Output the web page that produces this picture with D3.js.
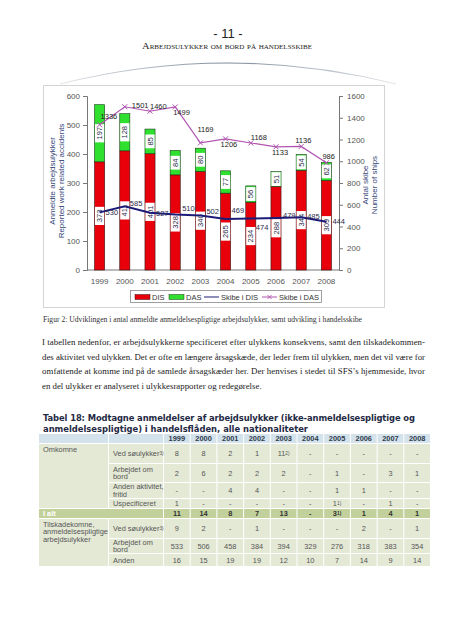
<!DOCTYPE html>
<html><head><meta charset="utf-8">
<script src="https://cdn.jsdelivr.net/npm/d3@7"></script>
<style>body{margin:0;background:#fff}svg{display:block}</style>
</head><body><svg id="c" width="452" height="640"></svg>
<script>
// ---------- DATA ----------
const years = ["1999","2000","2001","2002","2003","2004","2005","2006","2007","2008"];
const disAccidents = [373,411,401,328,340,265,234,288,344,309];
const dasAccidents = [197,128,85,84,80,77,56,51,54,62];
const shipsDIS = [530,585,527,510,502,469,474,479,485,444];
const shipsDAS = [1336,1501,1460,1499,1169,1206,1168,1133,1136,986];
const leftTicks = [0,100,200,300,400,500,600];
const rightTicks = [0,200,400,600,800,1000,1200,1400,1600];
const legendLabels = ["DIS","DAS","Skibe i DIS","Skibe i DAS"];
// label nudges (dx,dy from point) for line labels
const disLabelDx = [6,5,6,7,6,6,5,7,6,6];
const disLabelDy = [0,-3,1,-6,-4,-9,9,-3,-1,0];
const dasLabelDx = [1,7,0,-2,-3,-5,0,-4,-6,-4];
const dasLabelDy = [-8,-1,-5,5,-13,6,-6,6,-6,-6];

// table
const tableYears = years;
const omkSoe   = ["8","8","2","1","11^2)","-","-","-","-","-"];
const omkBord  = ["2","6","2","2","2","-","1","-","3","1"];
const omkAnden = ["-","-","4","4","-","-","1","1","-","-"];
const omkUspec = ["1","-","-","-","-","-","1^1)","-","1","-"];
const iAlt     = ["11","14","8","7","13","-","3^1)","1","4","1"];
const tilSoe   = ["9","2","-","1","-","-","-","2","-","1"];
const tilBord  = ["533","506","458","384","394","329","276","318","383","354"];
const tilAnden = ["16","15","19","19","12","10","7","14","9","14"];

const paragraph = [
 "I tabellen nedenfor, er arbejdsulykkerne specificeret efter ulykkens konsekvens, samt den tilskadekommen-",
 "des aktivitet ved ulykken. Det er ofte en længere årsagskæde, der leder frem til ulykken, men det vil være for",
 "omfattende at komme ind på de samlede årsagskæder her. Der henvises i stedet til SFS’s hjemmeside, hvor",
 "en del ulykker er analyseret i ulykkesrapporter og redegørelse."
];

// ---------- DRAW ----------
const svg = d3.select("#c");
const SANS = "'Liberation Sans', Arial, sans-serif";
const SERIF = "'Liberation Serif', 'Times New Roman', serif";

// header
svg.append("text").attr("x",228).attr("y",38).attr("text-anchor","middle")
  .attr("font-family",SANS).attr("font-size",13).attr("fill","#222").text("- 11 -");
svg.append("text").attr("x",227).attr("y",49).attr("text-anchor","middle")
  .attr("font-family",SERIF).attr("font-size",9).attr("fill","#222")
  .style("font-variant","small-caps").attr("textLength",170).attr("lengthAdjust","spacingAndGlyphs")
  .text("Arbejdsulykker om bord på handelsskibe");
const defs = svg.append("defs");
const g1 = defs.append("linearGradient").attr("id","arcg").attr("x1","0").attr("x2","1");
g1.append("stop").attr("offset","0").attr("stop-color","#7f8a9a").attr("stop-opacity",0.2);
g1.append("stop").attr("offset","0.5").attr("stop-color","#7f8a9a").attr("stop-opacity",1);
g1.append("stop").attr("offset","1").attr("stop-color","#7f8a9a").attr("stop-opacity",0.2);
svg.append("path").attr("d","M60,84 Q228,42 396,84").attr("fill","none")
  .attr("stroke","url(#arcg)").attr("stroke-width",1.2);

// chart frame
svg.append("rect").attr("x",43.5).attr("y",85.5).attr("width",341).attr("height",222)
  .attr("fill","#fff").attr("stroke","#d4d4d4");

const x = d3.scaleBand().domain(years).range([87,339]).paddingInner(0.6).paddingOuter(0.3);
const yL = d3.scaleLinear().domain([0,600]).range([270,96]);
const yR = d3.scaleLinear().domain([0,1600]).range([270,96]);
const cx = d => x(d) + x.bandwidth()/2;

// axes
const axL = svg.append("g").attr("transform","translate(87,0)")
  .call(d3.axisLeft(yL).tickValues(leftTicks).tickFormat(d3.format("d")).tickSize(4).tickPadding(3));
const axR = svg.append("g").attr("transform","translate(339,0)")
  .call(d3.axisRight(yR).tickValues(rightTicks).tickFormat(d3.format("d")).tickSize(4).tickPadding(4));
const axB = svg.append("g").attr("transform","translate(0,270)")
  .call(d3.axisBottom(x).tickSize(0).tickPadding(8));
[axL,axR,axB].forEach(a=>{
  a.selectAll("path,line").attr("stroke","#777");
  a.selectAll("text").attr("font-family",SANS).attr("font-size",8).attr("fill","#555");
});
axB.select("path").attr("d","M87,0H339");

// axis titles
const tL = svg.append("text").attr("transform","translate(0,181) rotate(-90)")
  .attr("text-anchor","middle").attr("font-family",SANS).attr("font-size",8).attr("fill","#34467a");
tL.append("tspan").attr("x",0).attr("y",55).text("Anmeldte arbejdsulykker");
tL.append("tspan").attr("x",0).attr("y",64).text("Reported work related accidents");
const tR = svg.append("text").attr("transform","translate(0,185) rotate(-90)")
  .attr("text-anchor","middle").attr("font-family",SANS).attr("font-size",8).attr("fill","#34467a");
tR.append("tspan").attr("x",0).attr("y",368).text("Antal skibe");
tR.append("tspan").attr("x",0).attr("y",377).text("Number of ships");

// bars
const barData = years.map((yr,i)=>({yr, dis:disAccidents[i], das:dasAccidents[i]}));
const bars = svg.append("g");
bars.selectAll(".dis").data(barData).join("rect")
  .attr("x",d=>x(d.yr)).attr("width",x.bandwidth())
  .attr("y",d=>yL(d.dis)).attr("height",d=>yL(0)-yL(d.dis))
  .attr("fill","#e8000b").attr("stroke","#3a1010").attr("stroke-width",0.6);
bars.selectAll(".das").data(barData).join("rect")
  .attr("x",d=>x(d.yr)).attr("width",x.bandwidth())
  .attr("y",d=>yL(d.dis+d.das)).attr("height",d=>yL(d.dis)-yL(d.dis+d.das))
  .attr("fill","#2fe02f").attr("stroke","#1a3a1a").attr("stroke-width",0.6);

function barLabel(xc, yc, txt){
  const g = svg.append("g").attr("transform",`translate(${xc},${yc}) rotate(-90)`);
  const w = txt.length*4.4+5;
  g.append("rect").attr("x",-w/2).attr("y",-4.6).attr("width",w).attr("height",9.2).attr("fill","#fff");
  g.append("text").attr("text-anchor","middle").attr("dy","0.33em")
   .attr("font-family",SANS).attr("font-size",7.6).attr("fill","#2a2a4a").text(txt);
}
barData.forEach(d=>{
  barLabel(cx(d.yr), (yL(0)+yL(d.dis))/2, String(d.dis));
  barLabel(cx(d.yr), (yL(d.dis)+yL(d.dis+d.das))/2, String(d.das));
});

// lines
const lineDIS = d3.line().x((d,i)=>cx(years[i])).y(d=>yR(d));
svg.append("path").attr("d",lineDIS(shipsDIS)).attr("fill","none")
  .attr("stroke","#1c1c78").attr("stroke-width",2);
svg.append("path").attr("d",lineDIS(shipsDAS)).attr("fill","none")
  .attr("stroke","#b054b0").attr("stroke-width",1.2);
shipsDAS.forEach((v,i)=>{
  const px=cx(years[i]), py=yR(v);
  svg.append("path").attr("d",`M${px-2.5},${py-2.5}L${px+2.5},${py+2.5}M${px-2.5},${py+2.5}L${px+2.5},${py-2.5}`)
    .attr("stroke","#b054b0").attr("stroke-width",1);
});
shipsDIS.forEach((v,i)=>{
  svg.append("text").attr("x",cx(years[i])+disLabelDx[i]).attr("y",yR(v)+disLabelDy[i]).attr("dy","0.35em")
    .attr("font-family",SANS).attr("font-size",7.5).attr("fill","#2a2a4a").text(v);
});
shipsDAS.forEach((v,i)=>{
  svg.append("text").attr("x",cx(years[i])+dasLabelDx[i]).attr("y",yR(v)+dasLabelDy[i]).attr("dy","0.35em")
    .attr("font-family",SANS).attr("font-size",7.5).attr("fill","#222").text(v);
});

// legend
const lg = svg.append("g");
lg.append("rect").attr("x",130.5).attr("y",290.5).attr("width",191).attr("height",12)
  .attr("fill","#fff").attr("stroke","#888").attr("stroke-width",0.8);
const legX = [135,169,204,262];
legendLabels.forEach((lab,i)=>{
  const lx = legX[i];
  if(i===0) lg.append("rect").attr("x",lx).attr("y",294.5).attr("width",15).attr("height",5).attr("fill","#e8000b").attr("stroke","#3a1010").attr("stroke-width",0.5);
  if(i===1) lg.append("rect").attr("x",lx).attr("y",294.5).attr("width",15).attr("height",5).attr("fill","#2fe02f").attr("stroke","#1a3a1a").attr("stroke-width",0.5);
  if(i===2) lg.append("line").attr("x1",lx).attr("x2",lx+15).attr("y1",297).attr("y2",297).attr("stroke","#1c1c78").attr("stroke-width",1);
  if(i===3){
    lg.append("line").attr("x1",lx).attr("x2",lx+15).attr("y1",297).attr("y2",297).attr("stroke","#b054b0").attr("stroke-width",1);
    lg.append("path").attr("d",`M${lx+5.5},295L${lx+9.5},299M${lx+5.5},299L${lx+9.5},295`).attr("stroke","#b054b0").attr("stroke-width",0.9);
  }
  lg.append("text").attr("x",lx+17).attr("y",297).attr("dy","0.35em")
    .attr("font-family",SANS).attr("font-size",7.5).attr("fill","#333").text(lab);
});

// caption + paragraph
svg.append("text").attr("x",43).attr("y",322).attr("font-family",SERIF).attr("font-size",7.6)
  .attr("fill","#333").attr("textLength",319).attr("lengthAdjust","spacingAndGlyphs")
  .text("Figur 2: Udviklingen i antal anmeldte anmeldelsespligtige arbejdsulykker, samt udvikling i handelsskibe");
paragraph.forEach((ln,i)=>{
  const t = svg.append("text").attr("x",42).attr("y",345+i*14.7).attr("font-family",SERIF)
    .attr("font-size",8.8).attr("fill","#222").text(ln);
  if(i<3) t.attr("textLength",383).attr("lengthAdjust","spacing");
});

// table title
const TT = "'DejaVu Sans', Verdana, sans-serif";
svg.append("text").attr("x",43).attr("y",421).attr("font-family",TT).attr("font-weight","bold")
  .attr("font-size",8.4).attr("fill","#1f2a44").attr("textLength",372).attr("lengthAdjust","spacing")
  .text("Tabel 18: Modtagne anmeldelser af arbejdsulykker (ikke-anmeldelsespligtige og");
svg.append("text").attr("x",43).attr("y",432).attr("font-family",TT).attr("font-weight","bold")
  .attr("font-size",8.4).attr("fill","#1f2a44").attr("textLength",265).attr("lengthAdjust","spacing")
  .text("anmeldelsespligtige) i handelsflåden, alle nationaliteter");

// table
const colX = d3.scaleBand().domain(tableYears).range([164,431]);
const c0 = [39,109], c1 = [109,164];
const hdr = [434,444];
const rowB = [444,464,483,499,509,519,539,554,567];
const rows = [
 {lab:["Ved søulykker^3)"], vals:omkSoe},
 {lab:["Arbejdet om","bord"], vals:omkBord},
 {lab:["Anden aktivitet,","fritid"], vals:omkAnden},
 {lab:["Uspecificeret"], vals:omkUspec},
 {lab:["I alt"], vals:iAlt, total:true},
 {lab:["Ved søulykker^3)"], vals:tilSoe},
 {lab:["Arbejdet om","bord"], vals:tilBord},
 {lab:["Anden"], vals:tilAnden}
];
const tb = svg.append("g");
const BODY="#e4e9d6", TOT="#c2d19c", HEAD="#d4e2ec";
function cell(x0,x1,y0,y1,fill){
  tb.append("rect").attr("x",x0).attr("y",y0).attr("width",x1-x0-1).attr("height",y1-y0-1).attr("fill",fill);
}
function txt(xp,yp,s,anchor,bold,color){
  const parts = s.split("^");
  const t = tb.append("text").attr("x",xp).attr("y",yp).attr("dy","0.35em").attr("text-anchor",anchor)
    .attr("font-family",SANS).attr("font-size",7.4).attr("fill",color||"#555")
    .attr("font-weight",bold?"bold":null);
  t.append("tspan").text(parts[0]);
  if(parts[1]) t.append("tspan").attr("font-size",4.8).attr("dy","-0.25em").text(parts[1]);
}
// header
cell(c0[0],c0[1],hdr[0],hdr[1],HEAD); cell(c1[0],c1[1],hdr[0],hdr[1],HEAD);
tableYears.forEach(yv=>{
  cell(colX(yv),colX(yv)+colX.bandwidth(),hdr[0],hdr[1],HEAD);
  txt(colX(yv)+colX.bandwidth()/2-0.5,(hdr[0]+hdr[1])/2-0.5,yv,"middle",true,"#2d3a4a");
});
// group cells
cell(c0[0],c0[1],rowB[0],rowB[4],BODY);
cell(c0[0],c0[1],rowB[5],rowB[8],BODY);
txt(43,rowB[0]+5,"Omkomne","start",false);
["Tilskadekomne,","anmeldelsespligtige","arbejdsulykker"].forEach((s,k)=>txt(43,rowB[5]+5+k*7.6,s,"start",false));
rows.forEach((r,i)=>{
  const y0=rowB[i], y1=rowB[i+1], ym=(y0+y1)/2-0.5;
  if(r.total){
    cell(c0[0],c1[1],y0,y1,TOT);
    txt(43,ym,"I alt","start",true,"#fff");
  } else {
    cell(c1[0],c1[1],y0,y1,BODY);
    const n=r.lab.length;
    r.lab.forEach((s,k)=>txt(113,ym+(k-(n-1)/2)*7.6,s,"start",false));
  }
  r.vals.forEach((v,j)=>{
    const yv=tableYears[j];
    cell(colX(yv),colX(yv)+colX.bandwidth(),y0,y1,r.total?TOT:BODY);
    txt(colX(yv)+colX.bandwidth()/2-0.5,ym,v,"middle",r.total,r.total?"#333":"#555");
  });
});
</script></body></html>
